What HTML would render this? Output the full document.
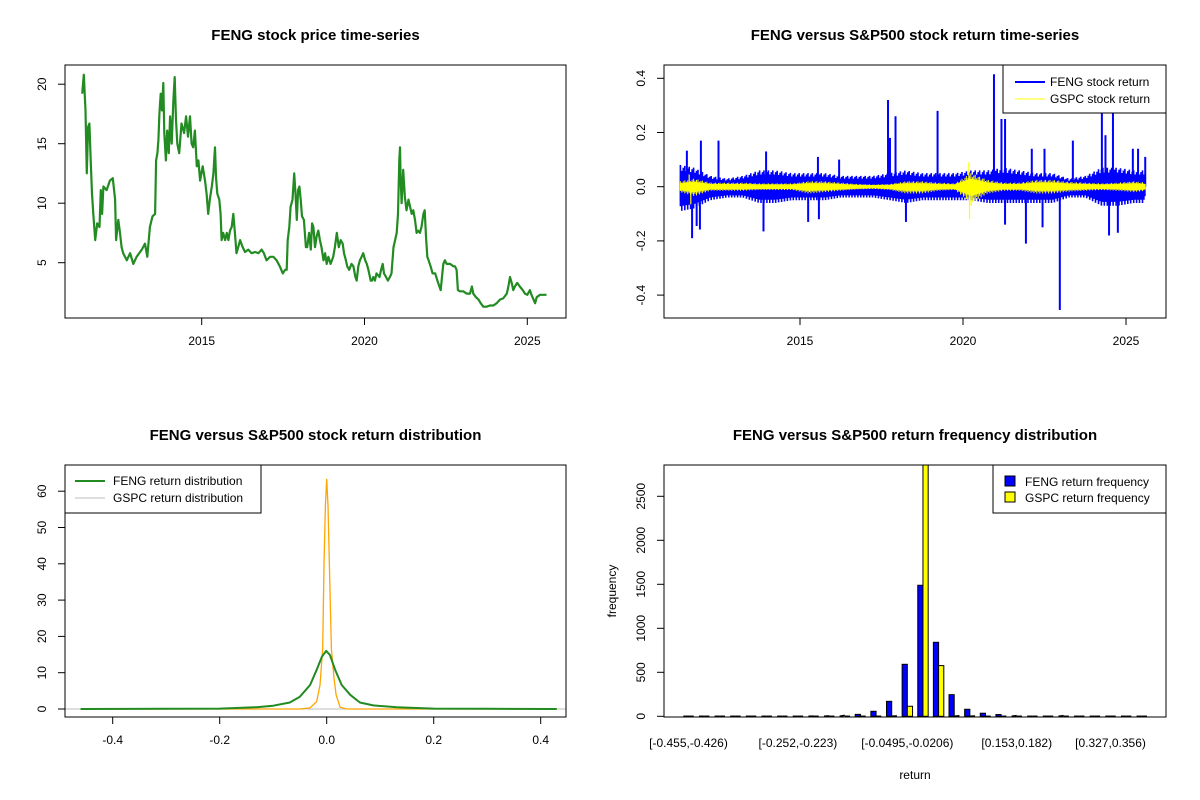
<!DOCTYPE html>
<html><head><meta charset="utf-8">
<style>
html,body{margin:0;padding:0;background:#fff;}
svg{display:block;font-family:"Liberation Sans",Arial,sans-serif;}
</style></head>
<body>
<svg id="chart" width="1200" height="800" viewBox="0 0 1200 800"></svg>
<script>
// ===== Panel 1 data: FENG price =====
const priceYears = [2011.33,2011.38,2011.43,2011.47,2011.51,2011.55,2011.59,2011.63,2011.67,2011.73,2011.79,2011.86,2011.90,2011.94,2011.98,2012.08,2012.18,2012.27,2012.34,2012.37,2012.44,2012.49,2012.54,2012.59,2012.70,2012.80,2012.90,2013.00,2013.16,2013.26,2013.33,2013.41,2013.49,2013.57,2013.60,2013.64,2013.67,2013.70,2013.74,2013.78,2013.82,2013.85,2013.90,2013.94,2013.99,2014.03,2014.08,2014.13,2014.17,2014.21,2014.25,2014.31,2014.38,2014.46,2014.52,2014.58,2014.64,2014.69,2014.74,2014.79,2014.85,2014.90,2014.95,2015.03,2015.10,2015.15,2015.20,2015.25,2015.31,2015.36,2015.41,2015.44,2015.48,2015.54,2015.58,2015.61,2015.66,2015.72,2015.77,2015.82,2015.87,2015.92,2015.97,2016.02,2016.07,2016.12,2016.18,2016.26,2016.33,2016.43,2016.53,2016.64,2016.74,2016.84,2016.91,2016.99,2017.10,2017.20,2017.30,2017.40,2017.49,2017.56,2017.61,2017.64,2017.69,2017.73,2017.79,2017.84,2017.88,2017.92,2017.96,2018.00,2018.04,2018.08,2018.14,2018.20,2018.24,2018.30,2018.35,2018.39,2018.43,2018.48,2018.53,2018.58,2018.63,2018.68,2018.74,2018.79,2018.84,2018.89,2018.96,2019.04,2019.09,2019.15,2019.21,2019.27,2019.33,2019.37,2019.43,2019.47,2019.53,2019.60,2019.66,2019.72,2019.76,2019.81,2019.86,2019.91,2019.96,2020.02,2020.07,2020.12,2020.19,2020.23,2020.27,2020.32,2020.37,2020.46,2020.51,2020.56,2020.60,2020.66,2020.72,2020.78,2020.83,2020.89,2020.94,2020.99,2021.03,2021.07,2021.09,2021.11,2021.14,2021.19,2021.24,2021.29,2021.35,2021.40,2021.45,2021.50,2021.55,2021.60,2021.65,2021.70,2021.75,2021.81,2021.85,2021.89,2021.93,2021.97,2022.03,2022.09,2022.17,2022.24,2022.30,2022.34,2022.38,2022.42,2022.47,2022.52,2022.63,2022.73,2022.78,2022.83,2022.87,2022.93,2023.03,2023.14,2023.24,2023.30,2023.34,2023.42,2023.50,2023.57,2023.65,2023.75,2023.85,2023.96,2024.06,2024.16,2024.26,2024.37,2024.42,2024.47,2024.52,2024.57,2024.62,2024.69,2024.77,2024.86,2024.93,2025.00,2025.08,2025.13,2025.19,2025.24,2025.29,2025.39,2025.49,2025.59];
const priceValues = [19.2,20.8,17.8,12.5,16.4,16.7,13.6,10.8,9.1,6.9,8.3,8.0,11.1,9.1,11.4,11.1,11.9,12.1,10.3,6.9,8.6,7.5,6.3,5.8,5.2,5.8,4.9,5.5,6.1,6.6,5.5,8.0,8.9,9.1,13.6,14.2,15.3,17.5,19.2,17.8,20.1,15.9,13.6,16.1,14.2,17.3,15.0,18.7,20.6,17.0,15.0,14.2,16.7,15.9,17.3,15.6,17.3,15.0,14.7,16.1,13.1,13.6,11.9,13.1,11.9,10.8,9.1,10.3,11.4,12.5,14.7,12.2,10.8,10.3,9.1,6.9,7.5,6.9,7.5,6.9,7.7,8.0,9.1,7.5,5.8,6.3,6.9,6.3,5.9,6.1,5.8,5.9,5.8,6.1,5.8,5.2,5.5,5.5,5.2,4.7,4.1,4.4,4.4,6.9,8.0,9.7,10.3,12.5,10.8,8.6,11.1,11.4,10.3,8.9,8.6,6.3,6.3,7.5,6.1,8.3,8.0,6.3,7.2,7.7,6.9,6.3,5.2,5.8,4.9,5.5,4.9,5.5,6.3,7.5,6.3,6.9,6.6,5.8,5.2,4.7,4.4,4.9,4.7,3.8,3.5,4.7,5.2,5.5,5.8,5.2,4.9,4.4,3.5,3.5,3.8,3.5,4.1,3.8,4.4,4.9,4.1,3.8,3.5,3.8,4.1,6.3,6.9,7.5,9.1,13.6,14.7,12.2,10.0,12.8,10.5,9.4,10.3,9.7,9.1,9.4,8.6,7.5,7.7,7.5,8.0,9.1,9.4,7.2,5.5,5.2,4.7,4.1,4.1,3.5,3.0,2.7,3.8,4.9,5.2,4.9,4.9,4.7,4.7,4.4,2.7,2.6,2.6,2.4,2.4,3.0,2.4,2.1,1.9,1.6,1.3,1.3,1.4,1.4,1.6,1.9,2.0,2.4,3.0,3.8,3.3,2.7,3.0,3.3,3.0,2.7,2.4,2.3,2.7,2.3,1.9,1.6,2.1,2.3,2.3,2.3];
const priceTicksY = [5,10,15,20];
const yearTicks = [2015,2020,2025];

// ===== Panel 2 data: returns =====
const bandYears = [2011.33,2011.75,2012.25,2012.75,2013.25,2013.75,2014.25,2014.75,2015.25,2015.75,2016.25,2016.75,2017.25,2017.75,2018.25,2018.75,2019.25,2019.75,2020.25,2020.75,2021.25,2021.75,2022.25,2022.75,2023.25,2023.75,2024.25,2024.75,2025.25,2025.59];
const fengHigh = [0.08,0.07,0.04,0.03,0.04,0.06,0.06,0.05,0.05,0.05,0.04,0.04,0.04,0.05,0.06,0.05,0.05,0.05,0.06,0.06,0.07,0.06,0.05,0.05,0.03,0.04,0.07,0.07,0.06,0.06];
const fengLow = [-0.09,-0.08,-0.05,-0.04,-0.04,-0.06,-0.06,-0.05,-0.05,-0.05,-0.04,-0.04,-0.04,-0.05,-0.06,-0.05,-0.05,-0.05,-0.05,-0.06,-0.06,-0.06,-0.06,-0.06,-0.04,-0.04,-0.07,-0.07,-0.06,-0.06];
const gspcHigh = [0.02,0.03,0.015,0.015,0.015,0.012,0.012,0.012,0.02,0.02,0.015,0.01,0.008,0.01,0.02,0.02,0.015,0.012,0.05,0.025,0.015,0.015,0.025,0.025,0.018,0.015,0.012,0.015,0.02,0.015];
const gspcLow = [-0.02,-0.035,-0.015,-0.015,-0.015,-0.012,-0.012,-0.012,-0.025,-0.02,-0.015,-0.01,-0.008,-0.012,-0.025,-0.025,-0.015,-0.012,-0.06,-0.025,-0.015,-0.015,-0.025,-0.025,-0.018,-0.015,-0.012,-0.015,-0.02,-0.015];
const fengSpikeYears = [2011.53,2011.96,2012.50,2011.69,2011.83,2011.93,2013.88,2013.96,2015.25,2015.55,2015.58,2016.20,2017.70,2017.76,2017.93,2018.25,2019.22,2020.95,2021.18,2021.29,2021.29,2021.93,2022.11,2022.44,2022.50,2022.97,2023.37,2024.26,2024.37,2024.48,2024.60,2024.75,2025.21,2025.37,2025.59];
const fengSpikeValues = [0.133,0.17,0.17,-0.19,-0.145,-0.158,-0.165,0.13,-0.13,0.11,-0.12,0.10,0.32,0.18,0.26,-0.13,0.28,0.415,0.25,0.25,-0.14,-0.21,0.14,-0.15,0.14,-0.455,0.17,0.27,0.19,-0.18,0.27,-0.17,0.14,0.14,0.11];
const gspcSpikeYears = [2011.60,2011.65,2020.18,2020.20,2020.25];
const gspcSpikeValues = [0.045,-0.065,0.09,-0.12,-0.07];
const returnTicksY = [-0.4,-0.2,0.0,0.2,0.4];

// ===== Panel 3 data: densities =====
const fengDensX = [-0.46,-0.3,-0.2,-0.131,-0.1,-0.069,-0.05,-0.031,-0.019,-0.009,-0.001,0.006,0.016,0.028,0.044,0.062,0.087,0.131,0.2,0.3,0.43];
const fengDensY = [0,0.05,0.1,0.5,0.9,1.8,3.4,6.6,10.7,14.4,16.0,14.9,10.7,6.6,3.9,1.8,1.0,0.5,0.1,0.05,0];
const gspcDensX = [-0.46,-0.05,-0.0312,-0.0188,-0.0125,-0.0075,-0.005,-0.0025,0,0.0025,0.005,0.0087,0.0137,0.0175,0.025,0.0374,0.43];
const gspcDensY = [0,0,0.3,2,6.6,16.8,39.7,56,63.4,56,39.7,16.5,8.5,3.9,0.5,0,0];
const densTicksX = [-0.4,-0.2,0.0,0.2,0.4];
const densTicksY = [0,10,20,30,40,50,60];

// ===== Panel 4 data: frequency bars =====
const fengFreq = [0,0,0,0,0,0,0,0,2,5,10,22,57,170,591,1489,841,246,80,35,20,8,0,0,8,0,0,0,0,0];
const gspcFreq = [0,0,0,0,0,0,0,0,0,0,0,0,0,5,114,3300,576,6,3,0,0,0,0,0,0,0,0,0,0,0];
const binLabelIdx = [0,7,14,21,27];
const binLabels = ["[-0.455,-0.426)","[-0.252,-0.223)","[-0.0495,-0.0206)","[0.153,0.182)","[0.327,0.356)"];
const freqTicksY = [0,500,1000,1500,2000,2500];

const NS = "http://www.w3.org/2000/svg";
const svg = document.getElementById("chart");
function mk(tag, attrs, parent) {
  const e = document.createElementNS(NS, tag);
  for (const k in attrs) e.setAttribute(k, attrs[k]);
  (parent || svg).appendChild(e);
  return e;
}
function txt(x, y, s, size, extra, parent) {
  const t = mk("text", Object.assign({x: x, y: y, "font-size": size, "text-anchor": "middle", fill: "#000"}, extra || {}), parent);
  t.textContent = s;
  return t;
}
function group(name) {
  const g = mk("g", {});
  
  
  return g;
}
function frame(g, x0, y0, x1, y1) {
  const r = mk("rect", {x: x0, y: y0, width: x1 - x0, height: y1 - y0, fill: "none", stroke: "#000", "stroke-width": 1}, g);
  
  
}
function yTicks(g, xLeft, ticks, sy, fmt) {
  ticks.forEach(v => {
    const y = sy(v);
    mk("line", {x1: xLeft, x2: xLeft - 7, y1: y, y2: y, stroke: "#000"}, g);
    const t = txt(xLeft - 19, y, fmt(v), 12, {transform: "rotate(-90 " + (xLeft - 19) + " " + y + ")"}, g);
    
    
  });
}
function xTicks(g, yBot, ticks, sx, fmt) {
  ticks.forEach(v => {
    const x = sx(v);
    mk("line", {x1: x, x2: x, y1: yBot, y2: yBot + 7, stroke: "#000"}, g);
    const t = txt(x, yBot + 27, fmt(v), 12, {}, g);
    
    
  });
}
function legendBox(g, x0, y0, x1, y1) {
  const r = mk("rect", {x: x0, y: y0, width: x1 - x0, height: y1 - y0, fill: "#fff", stroke: "#000"}, g);
  
  
}

// ---------- Panel 1 ----------
(function () {
  const g = group("price-panel");
  const L = 65, R = 566, T = 65, B = 318;
  const sx = yr => 201.7 + (yr - 2015) * 32.56;
  const sy = v => 322.2 - v * 11.9;
  const t = txt((L + R) / 2, 40, "FENG stock price time-series", 15, {"font-weight": "bold"}, g);
  
  
  const pts = priceYears.map((y, i) => sx(y).toFixed(1) + "," + sy(priceValues[i]).toFixed(1)).join(" ");
  const pl = mk("polyline", {points: pts, fill: "none", stroke: "#228B22", "stroke-width": 2.2, "stroke-linejoin": "round"}, g);
  
  
  frame(g, L, T, R, B);
  yTicks(g, L, priceTicksY, sy, v => String(v));
  xTicks(g, B, yearTicks, sx, v => String(v));
})();

// ---------- Panel 2 ----------
(function () {
  const g = group("return-panel");
  const L = 664, R = 1166, T = 65, B = 318;
  const sx = yr => 800 + (yr - 2015) * 32.6;
  const sy = v => 186.7 - v * 271;
  const t = txt((L + R) / 2, 40, "FENG versus S&P500 stock return time-series", 15, {"font-weight": "bold"}, g);
  
  
  function bandAt(hi, lo, yr) {
    let i = 0;
    while (i < bandYears.length - 2 && bandYears[i + 1] < yr) i++;
    const f = Math.min(1, Math.max(0, (yr - bandYears[i]) / (bandYears[i + 1] - bandYears[i])));
    return [hi[i] + (hi[i + 1] - hi[i]) * f, lo[i] + (lo[i + 1] - lo[i]) * f];
  }
  function band(hi, lo, color, name, w) {
    const bg = mk("g", {}, g);
    
    
    const y0 = bandYears[0], y1 = bandYears[bandYears.length - 1];
    // core (dense) region
    const up = bandYears.map((y, i) => sx(y).toFixed(1) + "," + sy(hi[i] * 0.55).toFixed(1));
    const dn = bandYears.map((y, i) => sx(y).toFixed(1) + "," + sy(lo[i] * 0.55).toFixed(1)).reverse();
    mk("polygon", {points: up.concat(dn).join(" "), fill: color, stroke: color, "stroke-width": 1}, bg);
    // jagged return lines reaching the envelope
    let d = "";
    let k = 0;
    for (let yr = y0; yr <= y1; yr += 0.045) {
      const b = bandAt(hi, lo, yr);
      const m = (k % 3 === 0) ? 1 : (k % 3 === 1 ? 0.75 : 0.9);
      d += "M" + sx(yr).toFixed(1) + "," + sy(b[0] * m).toFixed(1) + "V" + sy(b[1] * (k % 2 ? 1 : 0.8)).toFixed(1);
      k++;
    }
    mk("path", {d: d, stroke: color, "stroke-width": w, fill: "none"}, bg);
  }
  function spikes(ys, vs, color, w, name) {
    ys.forEach((y, i) => {
      const l = mk("line", {x1: sx(y), x2: sx(y), y1: sy(0), y2: sy(vs[i]), stroke: color, "stroke-width": w}, g);
      
      
    });
  }
  band(fengHigh, fengLow, "#0000FF", "feng-return-band", 1.6);
  spikes(fengSpikeYears, fengSpikeValues, "#0000FF", 2, "feng-return-spike");
  band(gspcHigh, gspcLow, "#FFFF00", "gspc-return-band", 1);
  spikes(gspcSpikeYears, gspcSpikeValues, "#FFFF00", 1.2, "gspc-return-spike");
  frame(g, L, T, R, B);
  yTicks(g, L, returnTicksY, sy, v => v.toFixed(1));
  xTicks(g, B, yearTicks, sx, v => String(v));
  const lg = group("return-legend");
  legendBox(lg, 1003, 65, 1166, 113);
  mk("line", {x1: 1015, x2: 1045, y1: 82, y2: 82, stroke: "#0000FF", "stroke-width": 2}, lg);
  mk("line", {x1: 1015, x2: 1045, y1: 99, y2: 99, stroke: "#FFFF00", "stroke-width": 1}, lg);
  const a = txt(1050, 86, "FENG stock return", 12, {"text-anchor": "start"}, lg);
  
  
  const b = txt(1050, 103, "GSPC stock return", 12, {"text-anchor": "start"}, lg);
  
  
})();

// ---------- Panel 3 ----------
(function () {
  const g = group("density-panel");
  const L = 65, R = 566, T = 465, B = 717;
  const sx = v => 326.7 + v * 535;
  const sy = d => 709 - d * 3.63;
  const t = txt((L + R) / 2, 440, "FENG versus S&P500 stock return distribution", 15, {"font-weight": "bold"}, g);
  
  
  const base = mk("line", {x1: L, x2: R, y1: sy(0), y2: sy(0), stroke: "#BEBEBE"}, g);
  
  
  const op = gspcDensX.map((x, i) => sx(x).toFixed(1) + "," + sy(gspcDensY[i]).toFixed(1)).join(" ");
  const o = mk("polyline", {points: op, fill: "none", stroke: "#FFA500", "stroke-width": 1.3}, g);
  
  
  const gp = fengDensX.map((x, i) => sx(x).toFixed(1) + "," + sy(fengDensY[i]).toFixed(1)).join(" ");
  const gl = mk("polyline", {points: gp, fill: "none", stroke: "#228B22", "stroke-width": 2, "stroke-linejoin": "round"}, g);
  
  
  frame(g, L, T, R, B);
  yTicks(g, L, densTicksY, sy, v => String(v));
  xTicks(g, B, densTicksX, sx, v => v.toFixed(1));
  const lg = group("density-legend");
  legendBox(lg, 65, 465, 261, 513);
  mk("line", {x1: 75, x2: 105, y1: 481, y2: 481, stroke: "#228B22", "stroke-width": 2}, lg);
  mk("line", {x1: 75, x2: 105, y1: 498, y2: 498, stroke: "#BEBEBE", "stroke-width": 1}, lg);
  const a = txt(113, 485, "FENG return distribution", 12, {"text-anchor": "start"}, lg);
  
  
  const b = txt(113, 502, "GSPC return distribution", 12, {"text-anchor": "start"}, lg);
  
  
})();

// ---------- Panel 4 ----------
(function () {
  const g = group("frequency-panel");
  const L = 664, R = 1166, T = 465, B = 717;
  const bw = 5.21;
  const gx = i => 683.3 + i * 3 * bw;
  const sy = v => 716.3 - v * 0.088;
  const t = txt((L + R) / 2, 440, "FENG versus S&P500 return frequency distribution", 15, {"font-weight": "bold"}, g);
  
  
  const cp = mk("clipPath", {id: "clip4"}, g);
  mk("rect", {x: L, y: T, width: R - L, height: B - T}, cp);
  const bars = mk("g", {"clip-path": "url(#clip4)"}, g);
  function drawBar(x, v, fill) {
    const y = sy(v);
    const h = sy(0) - y;
    if (h < 1) {
      return mk("line", {x1: x, x2: x + bw, y1: sy(0), y2: sy(0) - h, stroke: "#000", "stroke-width": 1.5}, bars);
    }
    return mk("rect", {x: x, y: y, width: bw, height: h, fill: fill, stroke: "#000", "stroke-width": 1}, bars);
  }
  fengFreq.forEach((v, i) => {
    const r = drawBar(gx(i), v, "#0000FF");
    
    
  });
  gspcFreq.forEach((v, i) => {
    const r = drawBar(gx(i) + bw, v, "#FFFF00");
    
    
  });
  frame(g, L, T, R, B);
  yTicks(g, L, freqTicksY, sy, v => String(v));
  binLabelIdx.forEach((idx, k) => {
    const lt = txt(gx(idx) + bw, 747, binLabels[k], 12, {}, g);
    
    
  });
  const xt = txt((L + R) / 2, 779, "return", 12, {}, g);
  
  
  const yt = txt(616, 591, "frequency", 12, {transform: "rotate(-90 616 591)"}, g);
  
  
  const lg = group("frequency-legend");
  legendBox(lg, 993, 465, 1166, 513);
  mk("rect", {x: 1005, y: 476, width: 10, height: 10, fill: "#0000FF", stroke: "#000"}, lg);
  mk("rect", {x: 1005, y: 492, width: 10, height: 10, fill: "#FFFF00", stroke: "#000"}, lg);
  const a = txt(1025, 486, "FENG return frequency", 12, {"text-anchor": "start"}, lg);
  
  
  const b = txt(1025, 502, "GSPC return frequency", 12, {"text-anchor": "start"}, lg);
  
  
})();
</script>
</body></html>
